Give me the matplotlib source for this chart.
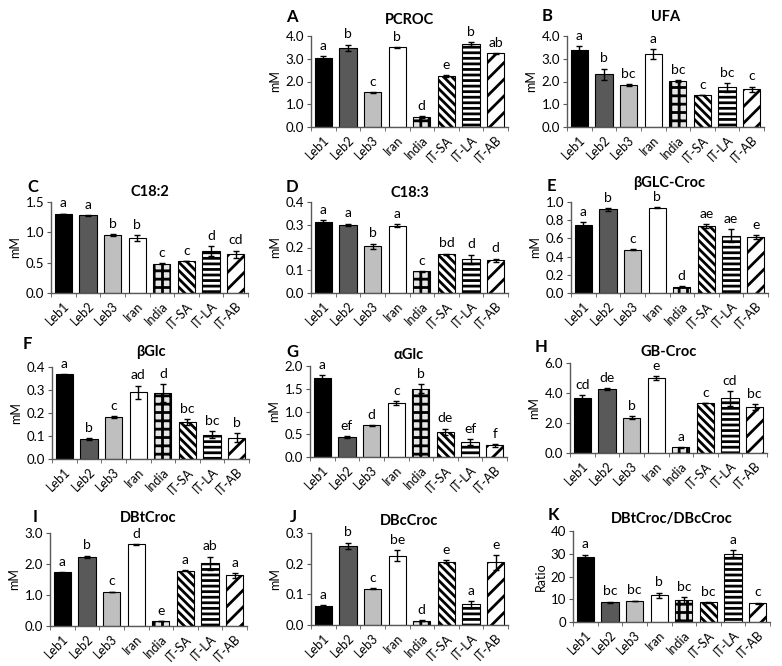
import matplotlib
matplotlib.use("Agg")
import matplotlib.pyplot as plt
from matplotlib.ticker import FixedLocator, FormatStrFormatter

plt.rcParams['font.family'] = ['Lato', 'DejaVu Sans']
plt.rcParams['hatch.linewidth'] = 2.0

groups = ['Leb1', 'Leb2', 'Leb3', 'Iran', 'India', 'IT-SA', 'IT-LA', 'IT-AB']

# values (mean, error, significance letter)
pcroc_mean = [3.05, 3.47, 1.52, 3.50, 0.44, 2.23, 3.65, 3.24]
pcroc_err = [0.05, 0.15, 0.03, 0.03, 0.03, 0.04, 0.08, 0.01]
pcroc_sig = ['a', 'b', 'c', 'b', 'd', 'e', 'b', 'ab']

ufa_mean = [3.40, 2.32, 1.85, 3.20, 2.01, 1.40, 1.74, 1.65]
ufa_err = [0.17, 0.25, 0.03, 0.22, 0.05, 0.0, 0.18, 0.13]
ufa_sig = ['a', 'b', 'bc', 'a', 'bc', 'c', 'bc', 'c']

c182_mean = [1.31, 1.28, 0.955, 0.91, 0.48, 0.53, 0.69, 0.64]
c182_err = [0.0, 0.01, 0.02, 0.05, 0.01, 0.0, 0.08, 0.06]
c182_sig = ['a', 'a', 'b', 'b', 'c', 'c', 'd', 'cd']

c183_mean = [0.312, 0.300, 0.205, 0.296, 0.095, 0.171, 0.149, 0.143]
c183_err = [0.010, 0.005, 0.012, 0.008, 0.003, 0.002, 0.020, 0.008]
c183_sig = ['a', 'a', 'b', 'a', 'c', 'bd', 'd', 'd']

bglccroc_mean = [0.745, 0.92, 0.476, 0.938, 0.07, 0.735, 0.63, 0.615]
bglccroc_err = [0.03, 0.015, 0.005, 0.005, 0.005, 0.02, 0.07, 0.025]
bglccroc_sig = ['a', 'b', 'c', 'b', 'd', 'ae', 'ae', 'e']

bglc_mean = [0.368, 0.087, 0.182, 0.291, 0.287, 0.160, 0.106, 0.092]
bglc_err = [0.002, 0.005, 0.005, 0.028, 0.037, 0.013, 0.015, 0.020]
bglc_sig = ['a', 'b', 'c', 'ad', 'd', 'bc', 'bc', 'b']

aglc_mean = [1.745, 0.445, 0.70, 1.18, 1.50, 0.555, 0.33, 0.26]
aglc_err = [0.06, 0.02, 0.01, 0.04, 0.10, 0.07, 0.06, 0.03]
aglc_sig = ['a', 'ef', 'd', 'c', 'b', 'de', 'ef', 'f']

gbcroc_mean = [3.68, 4.26, 2.36, 4.99, 0.37, 3.33, 3.64, 3.07]
gbcroc_err = [0.20, 0.06, 0.12, 0.15, 0.03, 0.02, 0.50, 0.20]
gbcroc_sig = ['cd', 'de', 'b', 'e', 'a', 'c', 'cd', 'bc']

dbt_mean = [1.73, 2.23, 1.10, 2.63, 0.16, 1.79, 2.02, 1.63]
dbt_err = [0.02, 0.04, 0.01, 0.02, 0.01, 0.02, 0.22, 0.08]
dbt_sig = ['a', 'b', 'c', 'd', 'e', 'a', 'ab', 'a']

dbc_mean = [0.062, 0.259, 0.119, 0.226, 0.014, 0.207, 0.067, 0.204]
dbc_err = [0.003, 0.010, 0.001, 0.018, 0.002, 0.005, 0.012, 0.024]
dbc_sig = ['a', 'b', 'c', 'be', 'd', 'e', 'a', 'e']

ratio_mean = [28.4, 8.7, 9.3, 11.8, 9.6, 8.7, 30.1, 8.2]
ratio_err = [1.2, 0.3, 0.1, 1.1, 1.5, 0.2, 1.4, 0.3]
ratio_sig = ['a', 'bc', 'bc', 'b', 'bc', 'bc', 'a', 'c']

# bar styles per group
face = ['black', '#595959', '#bfbfbf', 'white', '#e6e6e6', 'white', 'white', 'white']
hatch = [None, None, None, None, '++', '\\\\\\\\', '---', '//']

W, H = 782, 666
fig = plt.figure(figsize=(W / 100, H / 100), dpi=100)

# (letter, title, mean, err, sig, ymax, ystep, ylabel, fmt,
#  left px, top px, bottom px, title rise px, letter dx px, letter rise px)
panels = [
    ('A', 'PCROC', pcroc_mean, pcroc_err, pcroc_sig, 4.0, 1.0, 'mM', '%.1f', 311, 36, 127, 16, -19, 19),
    ('B', 'UFA', ufa_mean, ufa_err, ufa_sig, 4.0, 1.0, 'mM', '%.1f', 567, 36, 127, 19, -20, 20),
    ('C', 'C18:2', c182_mean, c182_err, c182_sig, 1.5, 0.5, 'mM', '%.1f', 51, 202, 293, 10, -18, 15),
    ('D', 'C18:3', c183_mean, c183_err, c183_sig, 0.4, 0.1, 'mM', '%.1f', 311, 202, 293, 9, -19, 15),
    ('E', 'βGLC-Croc', bglccroc_mean, bglccroc_err, bglccroc_sig, 1.0, 0.2, 'mM', '%.1f', 571, 202, 293, 19, -20, 16),
    ('F', 'βGlc', bglc_mean, bglc_err, bglc_sig, 0.4, 0.1, 'mM', '%.1f', 52, 367, 459, 15, -25, 23),
    ('G', 'αGlc', aglc_mean, aglc_err, aglc_sig, 2.0, 0.5, 'mM', '%.1f', 310, 366, 457, 11, -18, 14),
    ('H', 'GB-Croc', gbcroc_mean, gbcroc_err, gbcroc_sig, 6.0, 2.0, 'mM', '%.1f', 570, 363, 453, 11, -29, 16),
    ('I', 'DBtCroc', dbt_mean, dbt_err, dbt_sig, 3.0, 1.0, 'mM', '%.1f', 50, 533, 626, 15, -15, 16),
    ('J', 'DBcCroc', dbc_mean, dbc_err, dbc_sig, 0.3, 0.1, 'mM', '%.1f', 311, 533, 625, 12, -18, 16),
    ('K', 'DBtCroc/DBcCroc', ratio_mean, ratio_err, ratio_sig, 40, 10, 'Ratio', '%d', 573, 531, 622, 12, -20, 16),
]

axis_col = '#595959'
x = list(range(len(groups)))
px = 0.72  # points per pixel at dpi 100

for (letter, title, mean, err, sig, ymax, ystep, ylab, fmt,
     lpx, tpx, bpx, trise, ldx, lrise) in panels:
    ax = fig.add_axes([lpx / W, 1 - bpx / H, 197 / W, (bpx - tpx) / H])
    bars = ax.bar(x, mean, width=0.7, color=face, edgecolor='black', linewidth=0.8,
                  yerr=err, capsize=2.5, error_kw=dict(elinewidth=1, capthick=1, ecolor='black'))
    for b, h in zip(bars, hatch):
        if h:
            b.set_hatch(h)
    for xi, m, e, s in zip(x, mean, err, sig):
        ax.annotate(s, (xi, m + e), xytext=(0, 3), textcoords='offset points',
                    ha='center', va='bottom', fontsize=10)
    ax.set_xlim(-0.5, len(groups) - 0.5)
    ax.set_ylim(0, ymax)
    n = int(round(ymax / ystep))
    ax.yaxis.set_major_locator(FixedLocator([i * ystep for i in range(n + 1)]))
    ax.yaxis.set_major_formatter(FormatStrFormatter(fmt))
    ax.set_xticks(x)
    ax.set_xticklabels(groups, rotation=45, ha='right', rotation_mode='anchor', fontsize=9)
    ax.set_xticks([i - 0.5 for i in range(len(groups) + 1)], minor=True)
    ax.tick_params(axis='x', which='major', length=0, pad=5)
    ax.tick_params(axis='x', which='minor', length=3, color=axis_col, direction='out')
    ax.tick_params(axis='y', labelsize=9.5, length=3, color=axis_col, pad=2)
    for side in ['top', 'right']:
        ax.spines[side].set_visible(False)
    for side in ['left', 'bottom']:
        ax.spines[side].set_color(axis_col)
        ax.spines[side].set_linewidth(1)
    ax.set_ylabel(ylab, fontsize=9, labelpad=3)
    ax.annotate(title, (0.5, 1), xycoords='axes fraction', xytext=(0, trise * px),
                textcoords='offset points', fontsize=10.5, fontweight='bold',
                ha='center', va='center')
    ax.annotate(letter, (0, 1), xycoords='axes fraction', xytext=(ldx * px, lrise * px),
                textcoords='offset points', fontsize=12, fontweight='bold',
                ha='center', va='center')

fig.savefig('out.png', dpi=100)
